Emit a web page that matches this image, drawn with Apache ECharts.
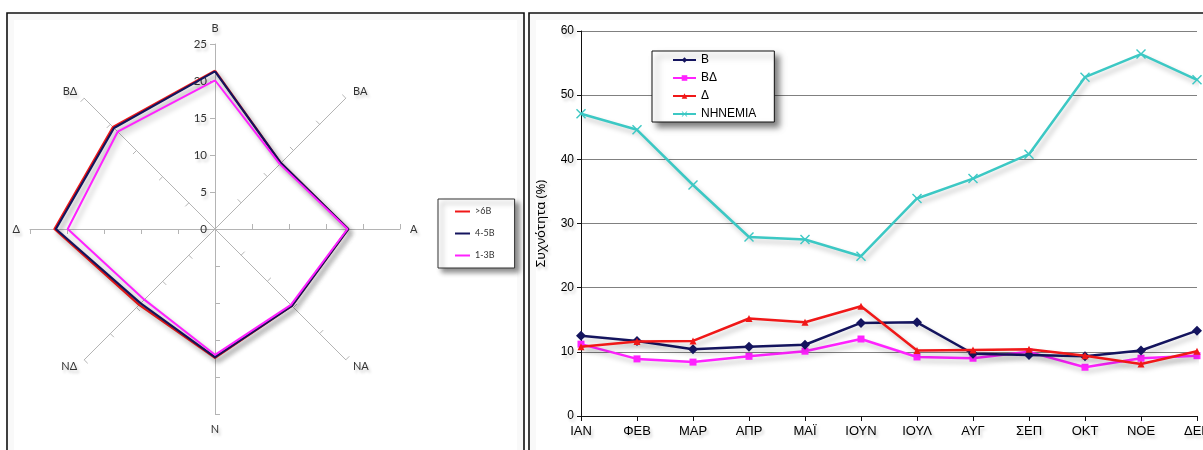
<!DOCTYPE html>
<html>
<head>
<meta charset="utf-8">
<script src="https://cdn.jsdelivr.net/npm/echarts@6/dist/echarts.min.js"></script>
<style>
html,body{margin:0;padding:0;background:#fff;overflow:hidden;}
#c{width:1203px;height:450px;}
</style>
</head>
<body>
<div id="c"></div>
<script>
// ---- Left panel: wind rose (radar) ----
const directions = ['Β', 'ΒΔ', 'Δ', 'ΝΔ', 'Ν', 'ΝΑ', 'Α', 'ΒΑ'];
const radarMax = 25;
const classNames = ['>6Β', '4-5Β', '1-3Β'];
const over6B = [21.4, 19.5, 21.7, 14.5, 17.4, 14.7, 18.0, 12.6];
const b45 = [21.3, 19.3, 21.5, 14.2, 17.3, 14.7, 18.0, 12.6];
const b13 = [20.1, 18.6, 19.9, 13.5, 17.0, 14.5, 17.9, 12.4];

// ---- Right panel: monthly frequency ----
const months = ['ΙΑΝ', 'ΦΕΒ', 'ΜΑΡ', 'ΑΠΡ', 'ΜΑΪ', 'ΙΟΥΝ', 'ΙΟΥΛ', 'ΑΥΓ', 'ΣΕΠ', 'ΟΚΤ', 'ΝΟΕ', 'ΔΕΚ'];
const lineNames = ['Β', 'ΒΔ', 'Δ', 'ΝΗΝΕΜΙΑ'];
const seriesB = [12.5, 11.7, 10.4, 10.8, 11.1, 14.5, 14.6, 9.7, 9.5, 9.3, 10.2, 13.3];
const seriesBD = [11.2, 8.9, 8.4, 9.3, 10.1, 12.0, 9.2, 9.0, 10.0, 7.6, 9.0, 9.4];
const seriesD = [10.8, 11.6, 11.7, 15.2, 14.6, 17.1, 10.2, 10.3, 10.4, 9.4, 8.1, 10.1];
const seriesCalm = [47.1, 44.6, 36.0, 27.9, 27.5, 24.9, 33.9, 37.0, 40.8, 52.8, 56.4, 52.4];
const yTicks = {min: 0, max: 60, interval: 10};

const RED = '#f01818', NAVY = '#14145e', MAG = '#ff22ff', CYAN = '#3cc8c4';
const lineShadow = {shadowColor: 'rgba(0,0,0,0.25)', shadowBlur: 5, shadowOffsetX: 3, shadowOffsetY: 4};
const txtShadow = {textShadowColor: 'rgba(0,0,0,0.2)', textShadowBlur: 3, textShadowOffsetX: 2, textShadowOffsetY: 3};
const xSymbol = 'path://M0,1L1,0L5,4L9,0L10,1L6,5L10,9L9,10L5,6L1,10L0,9L4,5Z';

const chart = echarts.init(document.getElementById('c'), null, {renderer: 'canvas', width: 1203, height: 450});

const indicators = directions.map((d, i) => {
  const o = {name: d, min: 0, max: radarMax};
  if (i === 0) o.axisLabel = {show: true};
  return o;
});

function frame(x, y, w, h) {
  return [
    {type: 'rect', z: -10, shape: {x: x, y: y, width: w, height: h},
     style: {fill: '#fff', stroke: '#111', lineWidth: 1.6}},
    {type: 'rect', z: -9, shape: {x: x + 4, y: y + 4, width: w - 8, height: h - 8},
     style: {fill: 'none', stroke: 'rgba(0,0,0,0.025)', lineWidth: 6}}
  ];
}

const option = {
  backgroundColor: '#fff',
  animation: false,
  graphic: [].concat(frame(7, 13, 517, 460), frame(529, 13, 700, 460)),
  radar: {
    center: [215, 229],
    radius: 185,
    startAngle: 90,
    shape: 'polygon',
    splitNumber: 5,
    indicator: indicators,
    axisName: Object.assign({color: '#333', fontSize: 11, fontFamily: 'Lato'}, txtShadow),
    nameGap: 10,
    axisLine: {lineStyle: {color: '#b4b4b4', width: 1}},
    axisTick: {show: true, length: 5, lineStyle: {color: '#b4b4b4'}},
    axisLabel: Object.assign({show: false, color: '#333', fontSize: 11.5, fontFamily: 'Lato', margin: 8}, txtShadow),
    splitLine: {show: false},
    splitArea: {show: false}
  },
  grid: {left: 581, right: 6, top: 31, bottom: 34, containLabel: false, outerBoundsMode: 'none'},
  xAxis: {
    type: 'category', data: months, boundaryGap: false,
    axisLine: {lineStyle: {color: '#111', width: 1}},
    axisTick: {show: true, length: 5, lineStyle: {color: '#111'}},
    axisLabel: Object.assign({color: '#000', fontSize: 13, fontFamily: 'Liberation Sans', margin: 9}, txtShadow)
  },
  yAxis: {
    type: 'value', min: yTicks.min, max: yTicks.max, interval: yTicks.interval,
    name: 'Συχνότητα (%)', nameLocation: 'middle', nameGap: 33, nameRotate: 90,
    nameTextStyle: Object.assign({color: '#000', fontSize: 13, fontFamily: 'Noto Sans'}, txtShadow),
    axisLine: {show: true, lineStyle: {color: '#111', width: 1}},
    axisTick: {show: true, length: 4, lineStyle: {color: '#111'}},
    axisLabel: Object.assign({color: '#000', fontSize: 12, fontFamily: 'Liberation Sans', margin: 7}, txtShadow),
    splitLine: {lineStyle: {color: '#808080', width: 1}}
  },
  legend: [
    {
      data: classNames, orient: 'vertical', left: 438, top: 199,
      icon: 'rect', itemWidth: 15, itemHeight: 2, itemGap: 11,
      padding: [7, 20, 7, 17],
      backgroundColor: '#fff', borderColor: '#333', borderWidth: 1,
      shadowColor: 'rgba(0,0,0,0.45)', shadowBlur: 5, shadowOffsetX: 4, shadowOffsetY: 4,
      textStyle: {color: '#333', fontSize: 9, fontFamily: 'Lato', lineHeight: 11},
      selectedMode: false
    },
    {
      data: lineNames, orient: 'vertical', left: 652, top: 51,
      itemWidth: 23, itemHeight: 7, itemGap: 4,
      padding: [2, 18, 1, 20],
      backgroundColor: '#fff', borderColor: '#111', borderWidth: 1,
      shadowColor: 'rgba(0,0,0,0.5)', shadowBlur: 6, shadowOffsetX: 5, shadowOffsetY: 5,
      textStyle: {color: '#000', fontSize: 12, fontFamily: 'Liberation Sans', lineHeight: 14},
      selectedMode: false
    }
  ],
  series: [
    {
      type: 'radar', symbol: 'none',
      data: [
        {name: classNames[0], value: over6B, lineStyle: Object.assign({color: RED, width: 2.2}, lineShadow), itemStyle: {color: RED}},
        {name: classNames[1], value: b45, lineStyle: Object.assign({color: NAVY, width: 2.2}, lineShadow), itemStyle: {color: NAVY}},
        {name: classNames[2], value: b13, lineStyle: Object.assign({color: MAG, width: 2}, lineShadow), itemStyle: {color: MAG}}
      ]
    },
    {
      name: lineNames[0], type: 'line', data: seriesB, symbol: 'diamond', symbolSize: 10,
      lineStyle: Object.assign({color: NAVY, width: 2.5}, lineShadow), itemStyle: {color: NAVY}, z: 4
    },
    {
      name: lineNames[1], type: 'line', data: seriesBD, symbol: 'rect', symbolSize: 7,
      lineStyle: Object.assign({color: MAG, width: 2.5}, lineShadow), itemStyle: {color: MAG}, z: 3
    },
    {
      name: lineNames[2], type: 'line', data: seriesD, symbol: 'triangle', symbolSize: 7,
      lineStyle: Object.assign({color: RED, width: 2.5}, lineShadow), itemStyle: {color: RED}, z: 5
    },
    {
      name: lineNames[3], type: 'line', data: seriesCalm, symbol: xSymbol, symbolSize: 10,
      lineStyle: Object.assign({color: CYAN, width: 2.5}, lineShadow), itemStyle: {color: CYAN}, z: 6
    }
  ]
};
chart.setOption(option);
</script>
</body>
</html>
